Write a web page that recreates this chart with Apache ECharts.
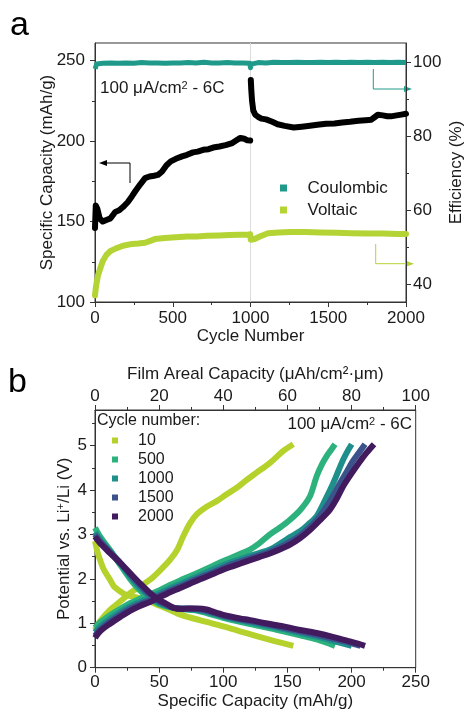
<!DOCTYPE html>
<html><head><meta charset="utf-8">
<script src="https://cdn.jsdelivr.net/npm/echarts@6/dist/echarts.min.js"></script>
<style>html,body{margin:0;padding:0;background:#fff}#c{width:473px;height:713px}</style>
</head><body><div id="c"></div>
<script>
// ---------- Panel a data ----------
const capCyclesA = [0,5,15,30,50,73,100,130,156,180,210,237,260,290,322,350,380,405,430,460,487,520,560,592,630,660,696,730,760,800,840,883,910,935,960,980,998];
const capValuesA = [146,160,158,152,150,151,152,156,157,159,162,165.6,169,173,177,178,178.5,179,181,185,187.4,189,190.5,191.5,193,193.5,194.6,195,196,196.7,197.5,198.8,200.5,202,201.5,200.5,200.4];
const capCyclesB = [1002,1005,1010,1018,1030,1050,1070,1100,1140,1174,1220,1278,1330,1382,1430,1486,1540,1590,1640,1694,1740,1777,1800,1819,1850,1880,1902,1940,1970,2000];
const capValuesB = [238,232,225,219,216.5,215,214,213.5,212,210.5,209.5,208.5,209,209.6,210.2,210.8,211,211.6,212,212.7,213,213.3,215,216.4,216,215.5,215.4,216,216.5,217];
const ceCycles = [1,10,50,100,150,200,250,300,350,400,450,500,550,600,650,700,750,800,850,900,950,995,1000,1005,1050,1100,1150,1200,1250,1300,1350,1400,1450,1500,1550,1600,1650,1700,1750,1800,1850,1900,1950,2000];
const ceValues = [98.2,99.5,99.7,99.8,99.7,99.8,99.7,99.9,99.8,99.8,99.7,99.8,99.8,99.9,99.8,100.0,99.8,99.8,99.9,99.8,99.8,99.7,98.5,99.5,99.9,99.8,100.0,99.9,99.9,100.0,99.9,99.9,100.0,99.9,100.0,99.9,100.0,99.9,100.0,99.9,100.0,99.9,100.0,99.9];
const veCycles = [0,5,10,20,31,50,73,100,135,180,239,280,322,360,385,450,520,592,655,720,800,863,930,985,998,1002,1010,1030,1060,1112,1180,1258,1350,1450,1550,1650,1750,1850,1950,2000];
const veValues = [37,39,40.3,42.5,43.9,46.3,47.9,49,49.7,50.4,50.9,51,51.2,51.8,52.2,52.5,52.7,52.9,52.9,53.1,53.2,53.3,53.4,53.4,53.5,52,51.8,52.3,52.9,53.8,54,54.1,54.1,54,53.9,53.8,53.7,53.7,53.6,53.6];
const cycleTicks = [0,500,1000,1500,2000];
const capTicks = [100,150,200,250];
const effTicks = [40,60,80,100];

// ---------- Panel b data ----------
const cycleNames = ['10','500','1000','1500','2000'];
const c10Charge = [[0,0.85],[4,1.05],[11.7,1.3],[20,1.5],[27.3,1.68],[35,1.83],[42.9,1.98],[50,2.17],[58.5,2.43],[64,2.65],[68.8,2.96],[74,3.25],[79.3,3.45],[87,3.62],[94.9,3.75],[102,3.89],[110.5,4.05],[118,4.22],[126,4.39],[136.4,4.61],[146.8,4.88],[154.6,5.03]];
const c10Discharge = [[0,2.85],[2,2.6],[3.9,2.43],[7,2.2],[11.7,1.98],[15,1.82],[19.5,1.72],[24,1.64],[29.9,1.6],[36,1.55],[42.9,1.49],[50,1.4],[58.5,1.3],[66,1.2],[74,1.13],[87,1.03],[100,0.93],[113,0.82],[126,0.71],[140,0.6],[154.6,0.49]];
const c500Charge = [[0,0.9],[4,1.02],[11.7,1.18],[20,1.33],[27.3,1.45],[35,1.55],[42.9,1.65],[50,1.74],[58.5,1.86],[66,1.96],[74,2.06],[82,2.16],[89.7,2.26],[97,2.36],[105,2.46],[113,2.56],[120.8,2.66],[128,2.8],[136.4,3.0],[144,3.15],[152,3.33],[160,3.55],[167.6,3.86],[172.8,4.31],[177,4.58],[180.6,4.76],[184,4.9],[187.1,5.03]];
const c500Discharge = [[0,3.15],[4,2.95],[11.7,2.65],[20,2.3],[27.3,2.0],[35,1.74],[42.9,1.55],[50,1.43],[55,1.38],[61,1.35],[67,1.32],[74,1.3],[80,1.28],[87,1.23],[93,1.18],[100,1.12],[113,1.03],[121,0.98],[133,0.91],[146.8,0.82],[160,0.73],[172.8,0.64],[180,0.57],[187.1,0.49]];
const c1000Charge = [[0,0.8],[4,0.93],[11.7,1.1],[20,1.26],[27.3,1.38],[35,1.48],[42.9,1.58],[50,1.67],[58.5,1.79],[66,1.88],[74,1.98],[82,2.08],[89.7,2.18],[97,2.27],[105,2.36],[113,2.44],[120.8,2.52],[128,2.58],[136.4,2.66],[146.8,2.84],[152,2.94],[159.8,3.07],[166,3.22],[172.8,3.41],[179,3.75],[185.8,4.16],[190,4.45],[193.6,4.69],[197,4.88],[200.1,5.03]];
const c1000Discharge = [[0,3.05],[4,2.88],[11.7,2.62],[20,2.33],[27.3,2.06],[35,1.8],[42.9,1.6],[50,1.46],[55,1.4],[61,1.35],[67,1.33],[74,1.32],[80,1.3],[87,1.26],[93,1.21],[100,1.15],[113,1.07],[121,1.02],[133,0.95],[146.8,0.87],[160,0.78],[172.8,0.7],[186,0.6],[200.1,0.49]];
const c1500Charge = [[0,0.72],[4,0.86],[11.7,1.04],[20,1.2],[27.3,1.33],[35,1.43],[42.9,1.52],[50,1.62],[58.5,1.74],[66,1.83],[74,1.93],[82,2.03],[89.7,2.12],[97,2.21],[105,2.31],[113,2.39],[121,2.46],[128,2.53],[136.4,2.61],[144,2.71],[152,2.83],[160,2.98],[167.6,3.17],[175,3.4],[183.2,3.75],[190,4.1],[196,4.4],[201,4.65],[206,4.85],[210.5,5.03]];
const c1500Discharge = [[0,3.0],[4,2.84],[11.7,2.6],[20,2.35],[27.3,2.1],[35,1.86],[42.9,1.64],[50,1.49],[55,1.42],[61,1.35],[67,1.33],[74,1.33],[80,1.32],[87,1.28],[93,1.23],[100,1.17],[113,1.09],[121,1.05],[133,0.98],[146.8,0.9],[160,0.82],[172.8,0.74],[186,0.65],[198.8,0.56],[207,0.49]];
const c2000Charge = [[0,0.67],[4,0.82],[11.7,0.99],[20,1.15],[27.3,1.28],[35,1.39],[42.9,1.48],[50,1.58],[58.5,1.7],[66,1.79],[74,1.89],[82,1.99],[89.7,2.08],[97,2.17],[105,2.26],[113,2.34],[121,2.42],[128,2.49],[136.4,2.57],[144,2.66],[152,2.77],[160,2.92],[167.6,3.1],[175,3.31],[183.2,3.56],[188,3.78],[193.6,4.09],[199,4.33],[204,4.54],[208,4.7],[211.8,4.84],[217.5,5.03]];
const c2000Discharge = [[0,2.95],[4,2.8],[11.7,2.58],[20,2.35],[27.3,2.13],[35,1.9],[42.9,1.68],[50,1.52],[55,1.45],[61,1.35],[67,1.32],[74,1.33],[80,1.33],[87,1.31],[93,1.25],[100,1.19],[113,1.11],[121,1.07],[133,1.0],[146.8,0.93],[160,0.85],[172.8,0.78],[186,0.69],[198.8,0.59],[205,0.54],[210.5,0.49]];
const capTicksB = [0,50,100,150,200,250];
const arealTicks = [0,20,40,60,80,100];
const voltTicks = [0,1,2,3,4,5];

const FONT = "'Liberation Sans', Arial, sans-serif";
const TXT = '#1a1a1a';
const AX = '#333';
const FS = 17;
const COL_CE = '#1f9a8a', COL_VE = '#b4d334';
const cycleColors = ['#b5d22c', '#2db27d', '#1f8f8b', '#3b528b', '#421a5e'];

function zip(xs, ys) { return xs.map((x, i) => [x, ys[i]]); }
function minors(ticks) { const r = []; for (let i = 0; i < ticks.length - 1; i++) r.push((ticks[i] + ticks[i+1]) / 2); return r; }

function mainAxis(o) {
  return Object.assign({
    type: 'value', splitLine: { show: false },
    axisLine: { show: true, onZero: false, lineStyle: { color: AX, width: 1 } },
    axisTick: { show: true, length: 5, lineStyle: { color: AX }, customValues: o.ticks },
    axisLabel: { show: true, color: TXT, fontSize: FS, fontFamily: FONT, margin: o.margin, customValues: o.ticks, formatter: v => String(v) },
    nameTextStyle: { color: TXT, fontSize: FS, fontFamily: FONT },
    nameLocation: 'middle'
  }, o.extra || {});
}
function minorAxis(o) {
  return Object.assign({
    type: 'value', splitLine: { show: false },
    axisLine: { show: false, onZero: false },
    axisTick: { show: true, length: 3, lineStyle: { color: AX }, customValues: o.ticks },
    axisLabel: { show: false }
  }, o.extra || {});
}

const xAxes = [
  mainAxis({ ticks: cycleTicks, margin: 8, extra: { gridIndex: 0, min: 0, max: 2000, position: 'bottom', name: 'Cycle Number', nameGap: 24 } }),
  minorAxis({ ticks: minors(cycleTicks), extra: { gridIndex: 0, min: 0, max: 2000, position: 'bottom' } }),
  mainAxis({ ticks: capTicksB, margin: 6, extra: { gridIndex: 1, min: 0, max: 250, position: 'bottom', name: 'Specific Capacity (mAh/g)', nameGap: 25 } }),
  minorAxis({ ticks: minors(capTicksB), extra: { gridIndex: 1, min: 0, max: 250, position: 'bottom' } }),
  mainAxis({ ticks: arealTicks, margin: 5, extra: { gridIndex: 1, min: 0, max: 100, position: 'top', name: 'Film Areal Capacity (μAh/cm²·μm)', nameGap: 27 } }),
  minorAxis({ ticks: minors(arealTicks), extra: { gridIndex: 1, min: 0, max: 100, position: 'top' } })
];
const yAxes = [
  mainAxis({ ticks: capTicks, margin: 10, extra: { gridIndex: 0, min: 100, max: 261, position: 'left', name: 'Specific Capacity (mAh/g)', nameGap: 39, nameMoveOverlap: false } }),
  minorAxis({ ticks: [125,175,225], extra: { gridIndex: 0, min: 100, max: 261, position: 'left' } }),
  mainAxis({ ticks: effTicks, margin: 7, extra: { gridIndex: 0, min: 35.2, max: 105.2, position: 'right', name: 'Efficiency (%)', nameGap: 42, nameMoveOverlap: false } }),
  minorAxis({ ticks: [50,70,90], extra: { gridIndex: 0, min: 35.2, max: 105.2, position: 'right' } }),
  mainAxis({ ticks: voltTicks, margin: 8, extra: { gridIndex: 1, min: 0, max: 5.8, position: 'left', name: 'Potential vs. Li{sup|+}/Li (V)', nameGap: 22, nameMoveOverlap: false,
    nameTextStyle: { color: TXT, fontSize: FS, fontFamily: FONT, rich: { sup: { fontSize: 11, fontFamily: FONT, color: TXT, verticalAlign: 'top', padding: [0,0,7,0] } } } } }),
  minorAxis({ ticks: [0.5,1.5,2.5,3.5,4.5,5.5], extra: { gridIndex: 1, min: 0, max: 5.8, position: 'left' } })
];

const series = [
  { name: 'Voltaic', type: 'line', xAxisIndex: 0, yAxisIndex: 2, data: zip(veCycles, veValues), showSymbol: false, z: 2,
    lineStyle: { color: COL_VE, width: 6, join: 'round', cap: 'round' }, itemStyle: { color: COL_VE },
    markLine: { silent: true, symbol: 'none', label: { show: false }, lineStyle: { color: '#dcdcdc', width: 1, type: 'solid' }, data: [{ xAxis: 1000 }], z: 1 } },
  { type: 'line', xAxisIndex: 0, yAxisIndex: 0, data: zip(capCyclesA, capValuesA), showSymbol: false, z: 3,
    lineStyle: { color: '#000', width: 6, join: 'round', cap: 'round' } },
  { type: 'line', xAxisIndex: 0, yAxisIndex: 0, data: zip(capCyclesB, capValuesB), showSymbol: false, z: 3,
    lineStyle: { color: '#000', width: 6, join: 'round', cap: 'round' } },
  { name: 'Coulombic', type: 'line', xAxisIndex: 0, yAxisIndex: 2, data: zip(ceCycles, ceValues), showSymbol: false, z: 3,
    lineStyle: { color: COL_CE, width: 5, join: 'round' }, itemStyle: { color: COL_CE } }
];
const bData = [[c10Charge, c10Discharge],[c500Charge, c500Discharge],[c1000Charge, c1000Discharge],[c1500Charge, c1500Discharge],[c2000Charge, c2000Discharge]];
bData.forEach((pair, i) => {
  pair.forEach(d => series.push({
    name: cycleNames[i], type: 'line', xAxisIndex: 2, yAxisIndex: 4, data: d, showSymbol: false, smooth: 0.3, z: 3 + i,
    lineStyle: { color: cycleColors[i], width: 6, cap: 'butt', join: 'round' }, itemStyle: { color: cycleColors[i] }
  }));
});

const SQ = 'path://M0,0L1,0L1,1L0,1Z';
const option = {
  animation: false,
  backgroundColor: '#fff',
  textStyle: { fontFamily: FONT },
  grid: [
    { left: 95, top: 43, right: 57.3, bottom: 411, show: true, borderColor: AX, borderWidth: 1, backgroundColor: 'transparent' },
    { left: 95, top: 410, right: 57.3, bottom: 45.3, show: true, borderColor: AX, borderWidth: 1, backgroundColor: 'transparent' }
  ],
  xAxis: xAxes,
  yAxis: yAxes,
  legend: [
    { data: ['Coulombic', 'Voltaic'], orient: 'vertical', left: 280, top: 177, padding: 0, itemGap: 0, icon: SQ,
      itemWidth: 38, itemHeight: 7, selectedMode: false, textStyle: { fontSize: 17, lineHeight: 22, color: TXT, fontFamily: FONT } },
    { data: cycleNames, orient: 'vertical', left: 112, top: 431, padding: 0, itemGap: 0, icon: SQ,
      itemWidth: 36, itemHeight: 6, selectedMode: false, textStyle: { fontSize: 16, lineHeight: 19, color: TXT, fontFamily: FONT } }
  ],
  series: series,
  graphic: [
    { type: 'text', left: 10, top: 9, style: { text: 'a', fontSize: 34, fontFamily: FONT, fill: '#000' } },
    { type: 'text', left: 8, top: 366, style: { text: 'b', fontSize: 34, fontFamily: FONT, fill: '#000' } },
    { type: 'text', left: 100, top: 80, style: { text: '100 μA/cm{s|2} - 6C', fontSize: 17, fontFamily: FONT, fill: TXT,
      rich: { s: { fontSize: 11, fontFamily: FONT, fill: TXT, verticalAlign: 'top', padding: [0,0,6,0] } } } },
    { type: 'text', right: 61, top: 416, style: { text: '100 μA/cm{s|2} - 6C', fontSize: 17, fontFamily: FONT, fill: TXT,
      rich: { s: { fontSize: 11, fontFamily: FONT, fill: TXT, verticalAlign: 'top', padding: [0,0,6,0] } } } },
    { type: 'text', left: 97, top: 413, style: { text: 'Cycle number:', fontSize: 16, fontFamily: FONT, fill: TXT } },
    // arrows
    { type: 'polyline', shape: { points: [[130,183],[130,163],[105,163]] }, style: { stroke: '#000', lineWidth: 1, fill: null } },
    { type: 'polygon', shape: { points: [[99,163],[107,160],[107,166]] }, style: { fill: '#000' } },
    { type: 'polyline', shape: { points: [[373.3,69],[373.3,89],[406,89]] }, style: { stroke: COL_CE, lineWidth: 1, fill: null } },
    { type: 'polygon', shape: { points: [[412,89],[404,86],[404,92]] }, style: { fill: COL_CE } },
    { type: 'polyline', shape: { points: [[375.7,244],[375.7,263.7],[408,263.7]] }, style: { stroke: COL_VE, lineWidth: 1, fill: null } },
    { type: 'polygon', shape: { points: [[414,263.7],[406,260.7],[406,266.7]] }, style: { fill: COL_VE } }
  ]
};
const chart = echarts.init(document.getElementById('c'), null, { renderer: 'canvas' });
chart.setOption(option);
</script>
</body></html>
